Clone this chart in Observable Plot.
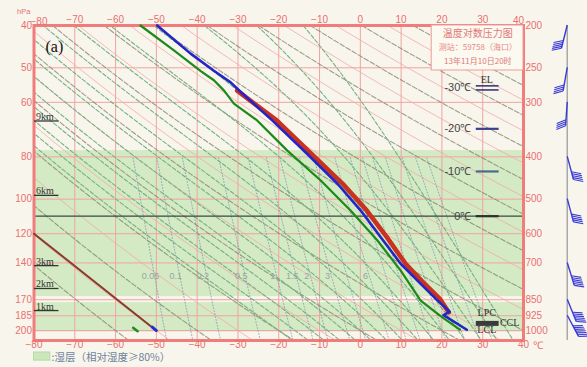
<!DOCTYPE html>
<html><head><meta charset="utf-8">
<script src="https://cdn.jsdelivr.net/npm/d3@7"></script>
<script src="https://cdn.jsdelivr.net/npm/@observablehq/plot@0.6"></script>
<style>
html,body{margin:0;padding:0;background:#f8f6ec;}
#chart{width:587px;height:367px;overflow:hidden;}
</style></head><body><div id="chart"></div>
<script>
// ---------- axes / ticks ----------
const xTicks = [-80,-70,-60,-50,-40,-30,-20,-10,0,10,20,30,40];
const pLevels = [200,250,300,400,500,600,700,850,925,1000];
const leftLabels = ["40","50","60","80","100","120","140","170","185","200"];

// ---------- sounding profiles ----------
const tempP = [200,232,254,270,284,330,394,461,531,611,703,782,846,905,922,996];
const tempT = [-49.8,-41.6,-35.9,-31.8,-29.3,-21.6,-13.0,-5.6,0.1,5.0,9.9,14.8,18.5,21.9,20.4,26.1];
const dewP  = [200,228,254,267,282,302,330,387,453,531,622,729,854,919,934,995];
const dewT  = [-53.9,-45.7,-39.2,-35.9,-33.4,-31.0,-25.3,-17.9,-9.7,-2.4,4.2,9.9,14.8,19.2,20.2,24.4];
const parcelP = [282,330,394,461,531,611,703,782,846,909];
const parcelT = [-30.2,-20.5,-11.9,-4.3,1.6,6.5,11.1,15.8,19.5,21.7];
// lower-left secondary traces
const brownP = [600, 991];
const brownT = [-80, -50.6];
const smallDewP = [986, 1004];
const smallDewT = [-55.7, -54.6];
const smallTempP = [982, 1000];
const smallTempT = [-51.0, -50.0];

// humid layers (RH >= 80%)
const humidTop = [387, 863];
const humidBottom = [836, 1008];

// background families
const dryTheta = [-60,-40,-20,0,20,40,60,80,100,120,140,160,180,200,220];
const pinkTheta = [-50,-30,-10,10,30,50,70,90,110,130,150,170,190,210];
const moistThetaW = [-20,-16,-12,-8,-4,0,4,8,12,16,20,24,28,32,36];
const mixRatios = [0.05,0.1,0.2,0.5,1,1.5,2,3,4,6,8,10,12,15,20,25,30];
const mixLabelW = [0.05,0.1,0.2,0.5,1,1.5,2,3,6];
const mixLabelP = 752;

// level markers on the right
const markT = ["-30℃","-20℃","-10℃","0℃"];
const markP = [278, 345, 432, 547];
const markColor = ["#3b3b72","#3e3e8c","#4a6a8a","#263326"];
const elP = [275, 281];
const zeroP = 547;

// height markers on the left
const heightLabels = ["9km","6km","3km","2km","1km"];
const heightP = [331, 490, 710, 801, 900];

// wind barbs (screen bearing of staff, deg; speed m/s)
const windP = [200,250,300,400,500,700,850,925];
const windDir = [194,190,184,165,165,163,158,152];
const windSpd = [20,16,14,20,20,24,24,26];
const windAxisT = 50.85;

const red = "#ea6f6f";
const gridPink = "#f1a3a3";

// ---------- helper thermodynamics for reference lines ----------
const pSamples = d3.range(0, 61).map(i => 200 * Math.pow(1070/200, i/60));
function es(Tc){ return 6.112*Math.exp(17.67*Tc/(Tc+243.5)); }
const dryLines = [], pinkLines = [], moistLines = [], mixLines = [];
dryTheta.forEach(th => pSamples.forEach(p => dryLines.push({id: th, p, T: (th+273.15)*Math.pow(p/1000,0.2857)-273.15})));
pinkTheta.forEach(th => pSamples.forEach(p => pinkLines.push({id: th, p, T: (th+273.15)*Math.pow(p/1000,0.2857)-273.15})));
function moistProfile(tw){
  const Rd=287.04, cp=1005.7, L=2.501e6, eps=0.622;
  const f=(T,lnp)=>{const p=Math.exp(lnp); const e=es(T-273.15); const rs=eps*e/(p-e); return (Rd*T+L*rs)/(cp+L*L*rs*eps/(Rd*T*T));};
  function run(pEnd){
    let lnp=Math.log(1000), T=tw+273.15; const n=120, h=(Math.log(pEnd)-lnp)/n; const out=[];
    for(let i=0;i<=n;i++){ out.push({id:tw, p:Math.exp(lnp), T:T-273.15}); const k1=f(T,lnp); const k2=f(T+h*k1/2,lnp+h/2); T+=h*k2; lnp+=h; }
    return out;
  }
  return run(1070).reverse().concat(run(200).slice(1));
}
moistThetaW.forEach(tw => moistLines.push(...moistProfile(tw)));
function tdFromW(w,p){ const e=w*p/(622+w); const a=Math.log(e/6.112); return 243.5*a/(17.67-a); }
const mixP = pSamples.filter(p => p >= 400);
mixRatios.forEach(w => mixP.forEach(p => mixLines.push({id:w, p, T: tdFromW(w,p)})));
const mixLabels = mixLabelW.map(w => ({w, p: mixLabelP, T: tdFromW(w, mixLabelP)}));

const line2 = (T, P) => T.map((t,i) => ({T: t, p: P[i]}));
const fmt = d => String(d).replace("-", "−");

const plot = Plot.plot({
  width: 587, height: 367,
  marginTop: 25, marginBottom: 27, marginLeft: 33.5, marginRight: 64,
  x: {domain: [-80, 40], axis: null},
  y: {type: "log", domain: [1054, 200], axis: null},
  style: {background: "#f8f6ec", fontFamily: "Liberation Sans", fontSize: "10px", overflow: "visible"},
  marks: [
    Plot.rect(humidTop.map((t,i)=>({top:t, bottom:humidBottom[i]})), {x1: -80, x2: 40, y1: "top", y2: "bottom", fill: "#cde7bd", fillOpacity: 0.85}),
    Plot.ruleX(xTicks.slice(1,-1), {stroke: gridPink, strokeWidth: 1}),
    Plot.ruleY(pLevels.slice(1), {stroke: gridPink, strokeWidth: 1}),
    Plot.line(pinkLines, {x: "T", y: "p", z: "id", stroke: "#f2a8a8", strokeWidth: 0.8, clip: true}),
    Plot.line(dryLines, {x: "T", y: "p", z: "id", stroke: "#7f806a", strokeWidth: 1.1, strokeDasharray: "5,2", strokeOpacity: 0.75, clip: true}),
    Plot.line(moistLines, {x: "T", y: "p", z: "id", stroke: "#74b283", strokeWidth: 1.1, strokeDasharray: "4,2", clip: true}),
    Plot.line(mixLines, {x: "T", y: "p", z: "id", stroke: "#7f96a8", strokeWidth: 0.9, strokeDasharray: "1,2", strokeOpacity: 0.85, clip: true}),
    Plot.text(mixLabels, {x: "T", y: "p", text: d => String(d.w), fill: "#9aa49e", fontSize: 9, dx: -4}),
    Plot.ruleY([zeroP], {stroke: "#3a4a3a", strokeWidth: 1.2}),
    Plot.frame({stroke: "#f07c7c", strokeWidth: 3}),
    // secondary traces
    Plot.line(line2(brownT, brownP), {x: "T", y: "p", stroke: "#8a3b2b", strokeWidth: 2}),
    Plot.line(line2(smallDewT, smallDewP), {x: "T", y: "p", stroke: "#1f8a1f", strokeWidth: 2.5}),
    Plot.line(line2(smallTempT, smallTempP), {x: "T", y: "p", stroke: "#2a2ad0", strokeWidth: 3}),
    // main profiles
    Plot.line(line2(parcelT, parcelP), {x: "T", y: "p", stroke: "#c8321f", strokeWidth: 4.5}),
    Plot.line(line2(tempT, tempP), {x: "T", y: "p", stroke: "#2424c8", strokeWidth: 2.6}),
    Plot.line(line2(dewT, dewP), {x: "T", y: "p", stroke: "#1b8a1b", strokeWidth: 2.2}),
    // title box
    Plot.rect([{}], {x1: 17.5, x2: 40, y1: 200, y2: 253.6, fill: "#fbf9f0", stroke: "#f09a9a", strokeWidth: 1}),
    Plot.text(["温度对数压力图"], {x: 28.8, y: 209, fill: "#e07878", fontSize: 10, fontFamily: "Noto Sans CJK SC"}),
    Plot.text(["测站：59758（海口）"], {x: 28.8, y: 225, fill: "#e88a8a", fontSize: 8, fontFamily: "Noto Sans CJK SC"}),
    Plot.text(["13年11月10日20时"], {x: 28.8, y: 242, fill: "#e07878", fontSize: 8, fontFamily: "Noto Sans CJK SC"}),
    // level markers
    Plot.link(markP.slice(1).map((p,i)=>({p, c: markColor[i+1]})), {x1: 28.3, x2: 33.9, y1: "p", y2: "p", stroke: "c", strokeWidth: 2.2}),
    Plot.link(elP, {x1: 28.3, x2: 33.9, y1: d => d, y2: d => d, stroke: "#3b3b72", strokeWidth: 1.6}),
    Plot.text(markT.map((t,i)=>({t, p: markP[i]})), {x: 27.2, y: "p", text: "t", textAnchor: "end", fill: "#444", fontSize: 11, fontFamily: "Liberation Sans"}),
    Plot.text(["EL"], {x: 31, y: 267, fill: "#333", fontSize: 10, fontFamily: "Liberation Serif"}),
    Plot.link([963], {x1: 28.3, x2: 33.9, y1: d => d, y2: d => d, stroke: "#3a3a3a", strokeWidth: 5}),
    Plot.text(["LPC"], {x: 31, y: 912, fill: "#333", fontSize: 10, fontFamily: "Liberation Serif"}),
    Plot.text(["LCL"], {x: 31, y: 998, fill: "#333", fontSize: 10, fontFamily: "Liberation Serif"}),
    Plot.text(["CCL"], {x: 36.6, y: 958, fill: "#333", fontSize: 10, fontFamily: "Liberation Serif"}),
    // height markers
    Plot.link(heightP, {x1: -80, x2: -74, y1: d => d, y2: d => d, stroke: "#2f3a2f", strokeWidth: 1.3}),
    Plot.text(heightLabels.map((t,i)=>({t, p: heightP[i]})), {x: -79.5, y: "p", text: "t", textAnchor: "start", lineAnchor: "bottom", dy: -1, fill: "#333", fontSize: 10, fontFamily: "Liberation Serif"}),
    Plot.text(["(a)"], {x: -75, y: 224, fill: "#111", fontSize: 16, fontFamily: "Liberation Serif"}),
    // axes
    Plot.axisX(xTicks.slice(1, -1), {anchor: "top", tickSize: 0, tickPadding: 3, color: red, fontSize: 10, label: null}),
    Plot.text([xTicks[0]], {x: d => d, frameAnchor: "top", dx: 5, dy: -8, fill: red, fontSize: 10, text: fmt}),
    Plot.text([xTicks[xTicks.length - 1]], {x: d => d, frameAnchor: "top", dx: -5, dy: -9, fill: red, fontSize: 10, text: fmt}),
    Plot.axisX(xTicks, {anchor: "bottom", tickSize: 0, tickPadding: 0, color: red, fontSize: 10, label: null}),
    Plot.axisY(pLevels, {anchor: "left", tickSize: 0, tickPadding: 2, color: red, fontSize: 10, label: null, tickFormat: d => leftLabels[pLevels.indexOf(d)]}),
    Plot.axisY(pLevels, {anchor: "right", tickSize: 0, tickPadding: 2, color: red, fontSize: 10, label: null, tickFormat: d => String(d)}),
    Plot.text(["℃"], {x: 43.6, y: 1085, fill: red, fontSize: 10.5}),
    Plot.text(["hPa"], {frameAnchor: "top-left", dx: -17, dy: -17, fill: red, fontSize: 7.5}),
    // legend
    Plot.rect([{}], {x1: -80, x2: -76, y1: 1123, y2: 1172, fill: "#cde7bd", stroke: "#b8d8a8"}),
    Plot.text([":湿层（相对湿度≥80%）"], {x: -75.7, y: 1156, textAnchor: "start", fill: "#6f7f9c", fontSize: 10.5, fontFamily: "Noto Sans CJK SC"})
  ]
});

document.getElementById("chart").appendChild(plot);

// ---------- wind barbs using the plot's own scales ----------
const xs = plot.scale("x"), ys = plot.scale("y");
const g = d3.select(plot).append("g");
const x0 = xs.apply(windAxisT);
g.append("line").attr("x1", x0).attr("x2", x0).attr("y1", ys.apply(200)).attr("y2", ys.apply(1054))
  .attr("stroke", "#a9a9a9").attr("stroke-width", 1.5);
windP.forEach((p, i) => {
  const y0 = ys.apply(p);
  const b = windDir[i] * Math.PI / 180;
  const dx = Math.sin(b), dy = -Math.cos(b);
  const L = 24;
  const tx = x0 + L*dx, ty = y0 + L*dy;
  g.append("line").attr("x1", x0).attr("y1", y0).attr("x2", tx).attr("y2", ty).attr("stroke", "#3a3ad8").attr("stroke-width", 1.4);
  const side = windDir[i] > 180 ? -1 : 1;
  const px = side > 0 ? dy : -dy, py = side > 0 ? -dx : dx;
  const n = Math.round(windSpd[i] / 4);
  for (let k = 0; k < n; k++) {
    const sx = tx - dx*2*k, sy = ty - dy*2*k;
    const fl = 10;
    const fx = px*Math.cos(0.45) + dx*Math.sin(0.45), fy = py*Math.cos(0.45) + dy*Math.sin(0.45);
    g.append("line").attr("x1", sx).attr("y1", sy).attr("x2", sx + fl*fx).attr("y2", sy + fl*fy)
      .attr("stroke", "#3a3ad8").attr("stroke-width", 1.1);
  }
});
</script>
</body></html>
